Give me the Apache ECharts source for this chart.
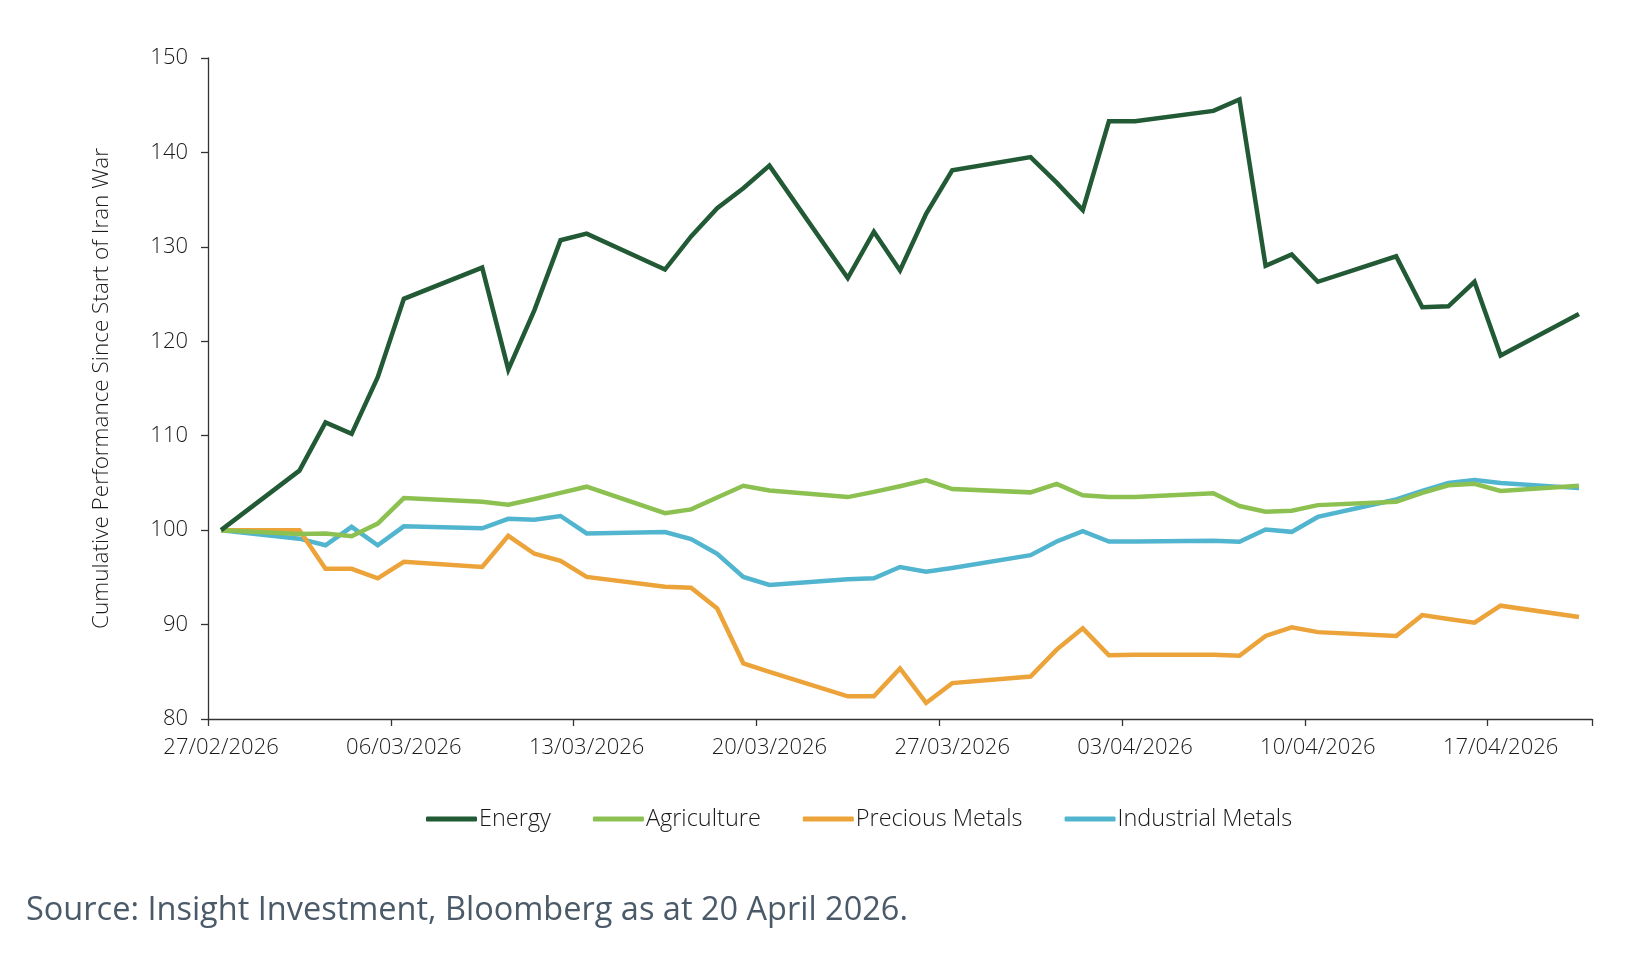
<!DOCTYPE html>
<html>
<head>
<meta charset="utf-8">
<script src="https://cdn.jsdelivr.net/npm/echarts@6/dist/echarts.min.js"></script>
<style>
html,body{margin:0;padding:0;background:#fff;}
#chart{width:1644px;height:976px;}
</style>
</head>
<body>
<div id="chart"></div>
<script>
// Trading dates (business days) from the reference chart
const tradeDates = [
  '27/02/2026','02/03/2026','03/03/2026','04/03/2026','05/03/2026','06/03/2026',
  '09/03/2026','10/03/2026','11/03/2026','12/03/2026','13/03/2026',
  '16/03/2026','17/03/2026','18/03/2026','19/03/2026','20/03/2026',
  '23/03/2026','24/03/2026','25/03/2026','26/03/2026','27/03/2026',
  '30/03/2026','31/03/2026','01/04/2026','02/04/2026','03/04/2026',
  '06/04/2026','07/04/2026','08/04/2026','09/04/2026','10/04/2026',
  '13/04/2026','14/04/2026','15/04/2026','16/04/2026','17/04/2026',
  '20/04/2026'
];
const energy = [
  100, 106.3, 111.4, 110.2, 116.2, 124.5,
  127.8, 117.0, 123.3, 130.7, 131.4,
  127.6, 131.1, 134.1, 136.2, 138.6,
  126.7, 131.6, 127.5, 133.5, 138.1,
  139.5, 136.8, 133.9, 143.3, 143.3,
  144.4, 145.6, 128.0, 129.2, 126.3,
  129.0, 123.6, 123.7, 126.3, 118.5,
  122.9
];
const agriculture = [
  100, 99.6, 99.65, 99.35, 100.7, 103.4,
  103.0, 102.7, 103.3, 103.95, 104.6,
  101.8, 102.2, 103.45, 104.7, 104.2,
  103.5, 104.05, 104.65, 105.3, 104.35,
  104.0, 104.9, 103.7, 103.5, 103.5,
  103.9, 102.55, 101.95, 102.05, 102.65,
  103.0, 103.95, 104.75, 104.9, 104.15,
  104.7
];
const preciousMetals = [
  100, 100, 95.9, 95.9, 94.9, 96.65,
  96.1, 99.4, 97.5, 96.75, 95.05,
  94.0, 93.9, 91.7, 85.9, 85.0,
  82.4, 82.4, 85.35, 81.7, 83.8,
  84.5, 87.35, 89.6, 86.75, 86.8,
  86.8, 86.7, 88.8, 89.7, 89.2,
  88.8, 91.0, 90.6, 90.2, 92.0,
  90.8
];
const industrialMetals = [
  100, 99.1, 98.4, 100.35, 98.4, 100.4,
  100.2, 101.2, 101.1, 101.5, 99.65,
  99.8, 99.05, 97.5, 95.05, 94.2,
  94.8, 94.9, 96.1, 95.6, 96.0,
  97.35, 98.8, 99.9, 98.8, 98.8,
  98.87, 98.77, 100.07, 99.82, 101.4,
  103.25, 104.15, 105.0, 105.3, 105.0,
  104.45
];
const seriesNames = ['Energy','Agriculture','Precious Metals','Industrial Metals'];
const seriesColors = ['#215a35','#8cc152','#eca33a','#52b5cf'];
const yTicks = {min: 80, max: 150, step: 10};
const yAxisTitle = 'Cumulative Performance Since Start of Iran War';
const sourceText = 'Source: Insight Investment, Bloomberg as at 20 April 2026.';

// Build calendar-day category axis (Excel-style date axis)
function parseD(s){const p=s.split('/');return new Date(Date.UTC(+p[2],+p[1]-1,+p[0]));}
function fmt(d){const dd=String(d.getUTCDate()).padStart(2,'0');const mm=String(d.getUTCMonth()+1).padStart(2,'0');return dd+'/'+mm+'/'+d.getUTCFullYear();}
const start = parseD(tradeDates[0]), end = parseD(tradeDates[tradeDates.length-1]);
const calendar = [];
for (let t = start.getTime(); t <= end.getTime(); t += 86400000) calendar.push(fmt(new Date(t)));
function toCal(vals){
  const m = {}; tradeDates.forEach((d,i)=>m[d]=vals[i]);
  return calendar.map(d => (d in m) ? m[d] : null);
}
const allVals = [energy, agriculture, preciousMetals, industrialMetals];

const chart = echarts.init(document.getElementById('chart'), null, {renderer:'canvas'});
const FONT = '"Open Sans", "Noto Sans", sans-serif';
chart.setOption({
  animation: false,
  backgroundColor: '#ffffff',
  grid: {left: 208, right: 52, top: 58, bottom: 257, containLabel: false},
  xAxis: {
    type: 'category',
    data: calendar,
    boundaryGap: true,
    axisLine: {show: true, lineStyle: {color: '#333', width: 1.3}},
    axisTick: {show: true, interval: 6, length: 7, lineStyle: {color: '#333', width: 1.3}},
    axisLabel: {interval: 6, margin: 18, color: '#1a1a1a', fontSize: 22, fontWeight: 300, fontFamily: FONT},
    splitLine: {show: false}
  },
  yAxis: {
    type: 'value',
    min: yTicks.min, max: yTicks.max, interval: yTicks.step,
    name: yAxisTitle,
    nameLocation: 'middle',
    nameGap: 95,
    nameTextStyle: {color: '#1a1a1a', fontSize: 22.5, fontWeight: 300, fontFamily: FONT},
    axisLine: {show: true, lineStyle: {color: '#333', width: 1.3}},
    axisTick: {show: true, length: 7, lineStyle: {color: '#333', width: 1.3}},
    axisLabel: {margin: 20, color: '#1a1a1a', fontSize: 22, fontWeight: 300, fontFamily: FONT},
    splitLine: {show: false}
  },
  legend: {
    data: seriesNames,
    left: 421, top: 802,
    icon: 'roundRect',
    itemWidth: 51, itemHeight: 5, itemGap: 42,
    textStyle: {color: '#1a1a1a', fontSize: 23.5, fontWeight: 300, fontFamily: FONT, padding: [0,0,0,-3]}
  },
  graphic: [{
    type: 'text', left: 26, top: 894,
    style: {text: sourceText, fill: '#4b5a69', fontSize: 32.5, fontFamily: FONT}
  }],
  series: seriesNames.map((n,i)=>({
    name: n, type: 'line', data: toCal(allVals[i]),
    connectNulls: true, showSymbol: false, symbol: 'none',
    lineStyle: {color: seriesColors[i], width: 4.5, join: 'miter'},
    itemStyle: {color: seriesColors[i]},
    z: 10 - i
  }))
});
</script>
</body>
</html>
